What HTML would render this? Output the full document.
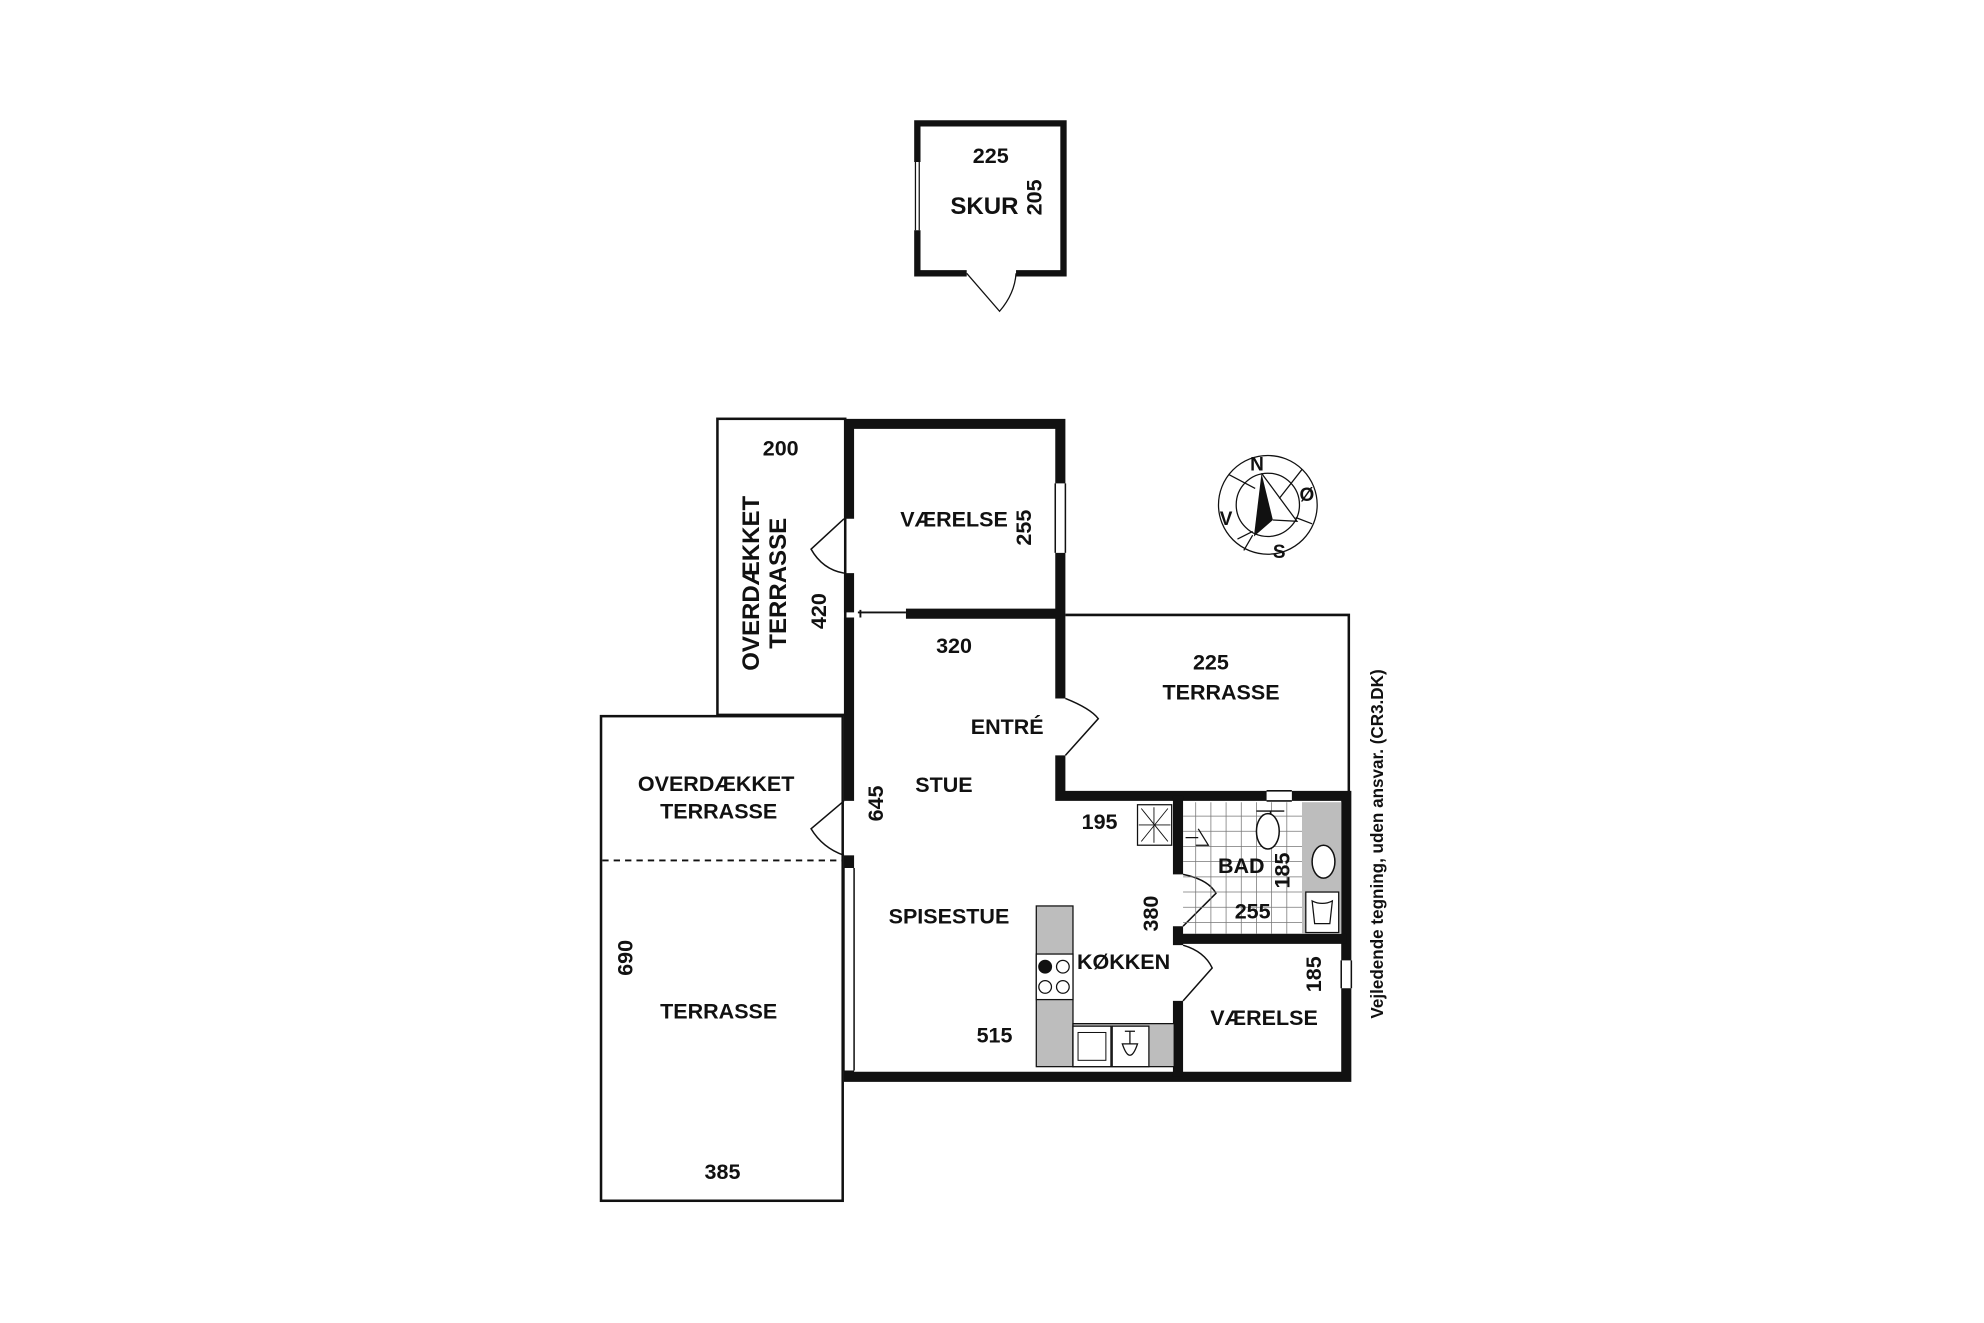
<!DOCTYPE html>
<html><head><meta charset="utf-8"><style>
html,body{margin:0;padding:0;background:#fff;}
svg{display:block;}
text{font-family:"Liberation Sans",Arial,sans-serif;font-weight:bold;fill:#111;}
</style></head><body>
<svg width="1984" height="1323" viewBox="0 0 1568 1045.6" preserveAspectRatio="none" xmlns="http://www.w3.org/2000/svg">
<rect width="1568" height="1046" fill="#fff"/>
<g fill="none" stroke="#111">
<!-- SKUR -->
<path d="M725,128 V97.5 H840.5 V216 H803 M764,216 H725 V182" stroke-width="5"/>
<path d="M723.5,128 V182 M726.5,128 V182" stroke-width="1"/>
<path d="M764,216 L790,246 Q802,232 803,216" stroke-width="1"/>

<!-- thin terraces -->
<rect x="567" y="331" width="101" height="234" stroke-width="2"/>
<rect x="475" y="566" width="191" height="383" stroke-width="2"/>
<path d="M476,680 H666" stroke-width="1.5" stroke-dasharray="5,4"/>
<path d="M842,486 H1066 V628" stroke-width="2"/>

<!-- main thick walls -->
<g stroke-width="8">
<path d="M671,410 V335 H838 V382 M838,437 V552 M838,597 V629 H1001 M1021,629 H1064 V759 M1064,781 V851 H671 V846"/>
<path d="M671,453 V484"/>
<path d="M671,488 V633"/>
<path d="M671,676 V686"/>
<path d="M716,485 H838"/>
<path d="M931,629 V691 M931,732 V742 H1064 M931,742 V747 M931,791 V851"/>
</g>
<!-- windows -->
<path d="M834,382 V437 M842,382 V437 M667,686 V846 M675,686 V846 M1001,625 H1021 M1001,633 H1021 M1060,759 V781 M1068,759 V781" stroke-width="1.2"/>
<path d="M680,482 V488 M678,484 H716" stroke-width="1.5"/>
<!-- doors -->
<path d="M667,410 L641,434 Q650,450 667,453" stroke-width="1.2"/>
<path d="M667,633 L641,655 Q650,670 667,676" stroke-width="1.2"/>
<path d="M842,552 Q862,560 868,568 L842,597" stroke-width="1.2"/>
<path d="M935,691 Q955,695 961,706 L935,732" stroke-width="1.2"/>
<path d="M935,747 Q952,752 958,765 L935,791" stroke-width="1.2"/>

<!-- bathroom tiles -->
<g stroke-width="0.6" stroke="#777">
<path d="M945,634 V738 M957,634 V738 M969,634 V738 M981,634 V738 M993,634 V738 M1005,634 V738 M1017,634 V738"/>
<path d="M935,645 H1029 M935,657 H1029 M935,669 H1029 M935,681 H1029 M935,693 H1029 M935,705 H1029 M935,717 H1029 M935,729 H1029"/>
</g>
<rect x="1029" y="634" width="31" height="104" fill="#bdbdbd" stroke="none"/>
<rect x="1032" y="705" width="26" height="32" fill="#fff" stroke-width="1"/>
<path d="M1037,712 Q1045,716 1053,712 L1051,730 H1039 Z" stroke-width="1"/>
<ellipse cx="1046" cy="681" rx="9" ry="13" fill="#fff" stroke-width="1.2"/>
<path d="M993,641 H1015 M1004,641 V650" stroke-width="1"/>
<ellipse cx="1002" cy="657" rx="9" ry="14" fill="#fff" stroke-width="1.2"/>
<path d="M937,662 H947 M947,655 L955,668 L945,668" stroke-width="1"/>
<rect x="899" y="636" width="27" height="32" fill="#fff" stroke-width="1"/>
<path d="M902,639 L923,665 M923,639 L902,665 M912,638 V666 M900,652 H925" stroke-width="0.7"/>

<!-- kitchen -->
<rect x="819" y="716" width="29" height="127" fill="#bdbdbd" stroke-width="1"/>
<rect x="848" y="809" width="80" height="34" fill="#bdbdbd" stroke-width="1"/>
<rect x="819" y="754" width="29" height="36" fill="#fff" stroke-width="1"/>
<circle cx="826" cy="764" r="5" fill="#111" stroke-width="1"/>
<circle cx="840" cy="764" r="5" fill="#fff" stroke-width="1"/>
<circle cx="826" cy="780" r="5" fill="#fff" stroke-width="1"/>
<circle cx="840" cy="780" r="5" fill="#fff" stroke-width="1"/>
<rect x="848" y="811" width="30" height="32" fill="#fff" stroke-width="1"/>
<rect x="852" y="816" width="22" height="22" fill="#fff" stroke-width="0.8"/>
<rect x="879" y="811" width="29" height="32" fill="#fff" stroke-width="1"/>
<path d="M889,815 H897 M893,815 V825" stroke-width="1"/>
<path d="M887,825 Q893,843 899,825 Z" stroke-width="1"/>

<!-- compass -->
<g stroke-width="1">
<circle cx="1002" cy="399" r="39"/>
<circle cx="1002" cy="399" r="25"/>
<path d="M971,375 L992,386 M1029,371 L1011,394 M1037,414 L1024,409 M978,426 L990,420 M983,435 L990,423"/>
<path d="M997,374 L1025,412 L1006,411"/>
</g>
</g>
<path d="M997,374 L991,424 L1006,411 Z" fill="#111"/>
<text x="988" y="372" font-size="15">N</text>
<text x="1027" y="396" font-size="15">Ø</text>
<text x="1006" y="441" font-size="15">S</text>
<text x="964" y="415" font-size="15">V</text>

<!-- labels -->
<g font-size="17" text-anchor="middle">
<text x="783" y="129">225</text>
<text x="778" y="169" font-size="19">SKUR</text>
<text transform="translate(823,156) rotate(-90)">205</text>
<text x="617" y="360">200</text>
<text transform="translate(600,461) rotate(-90)" font-size="19">OVERDÆKKET</text>
<text transform="translate(621,461) rotate(-90)" font-size="19">TERRASSE</text>
<text transform="translate(653,483) rotate(-90)">420</text>
<text x="754" y="416">VÆRELSE</text>
<text transform="translate(815,417) rotate(-90)">255</text>
<text x="754" y="516">320</text>
<text x="957" y="529">225</text>
<text x="965" y="553">TERRASSE</text>
<text x="796" y="580">ENTRÉ</text>
<text x="746" y="626">STUE</text>
<text x="566" y="625">OVERDÆKKET</text>
<text x="568" y="647">TERRASSE</text>
<text transform="translate(698,635) rotate(-90)">645</text>
<text x="869" y="655">195</text>
<text x="981" y="690">BAD</text>
<text transform="translate(1019,688) rotate(-90)">185</text>
<text x="990" y="726">255</text>
<text transform="translate(915,722) rotate(-90)">380</text>
<text x="750" y="730">SPISESTUE</text>
<text x="888" y="766">KØKKEN</text>
<text transform="translate(1044,770) rotate(-90)">185</text>
<text x="999" y="810">VÆRELSE</text>
<text transform="translate(500,757) rotate(-90)">690</text>
<text x="568" y="805">TERRASSE</text>
<text x="786" y="824">515</text>
<text x="571" y="932">385</text>
<text transform="translate(1093,667) rotate(-90)" font-size="13.5">Vejledende tegning, uden ansvar. (CR3.DK)</text>
</g>
</svg>
</body></html>
